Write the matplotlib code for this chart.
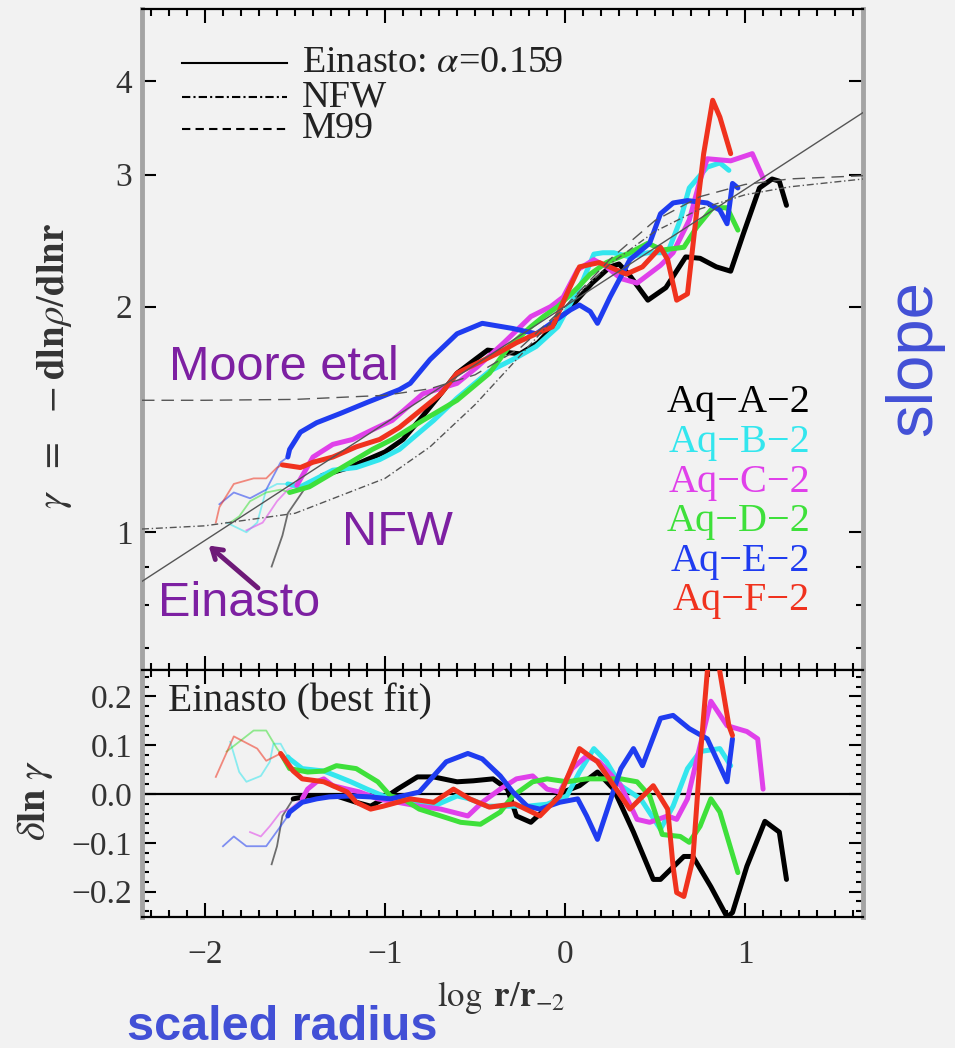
import numpy as np
import matplotlib
matplotlib.use('Agg')
import matplotlib.pyplot as plt
from matplotlib.lines import Line2D
from matplotlib.ticker import FixedLocator, NullFormatter, MultipleLocator, FixedFormatter

plt.rcParams['mathtext.fontset'] = 'stix'
plt.rcParams['font.family'] = ['Liberation Serif', 'DejaVu Serif']

# ---------------- data ----------------
halo_names = ['Aq\u2212A\u22122', 'Aq\u2212B\u22122', 'Aq\u2212C\u22122',
              'Aq\u2212D\u22122', 'Aq\u2212E\u22122', 'Aq\u2212F\u22122']
halo_colors = ['#000000', '#33e6ee', '#e040ea', '#3ee03a', '#1f3cf0', '#f0321e']

# convergence radius (thin line inside, thick outside) for each panel
split_top = [-1.35, -1.54, -1.49, -1.53, -1.54, -1.57]
split_bot = [-1.51, -1.54, -1.46, -1.57, -1.54, -1.58]

# --- top panel: gamma vs log r/r_-2
A_top_x = [-1.63, -1.57, -1.54, -1.45, -1.35, -1.2, -1.1, -1.0, -0.9, -0.8, -0.7, -0.6, -0.5, -0.43,
           -0.35, -0.25, -0.15, -0.05, 0.05, 0.15, 0.25, 0.3, 0.36, 0.46, 0.56, 0.67, 0.75, 0.84,
           0.92, 0.99, 1.08, 1.15, 1.19, 1.23]
A_top_g = [0.90, 0.99, 1.06, 1.14, 1.19, 1.22, 1.25, 1.28, 1.33, 1.42, 1.52, 1.63, 1.70, 1.75,
           1.74, 1.73, 1.79, 1.90, 2.02, 2.15, 2.26, 2.28, 2.20, 2.04, 2.12, 2.33, 2.32, 2.26,
           2.23, 2.50, 2.88, 2.96, 2.94, 2.73]

B_top_x = [-1.88, -1.77, -1.71, -1.66, -1.60, -1.54, -1.47, -1.29, -1.16, -1.03, -0.92, -0.73, -0.60,
           -0.42, -0.27, -0.16, -0.04, 0.03, 0.10, 0.16, 0.21, 0.27, 0.36, 0.46, 0.57, 0.64, 0.69,
           0.79, 0.86, 0.91]
B_top_g = [1.03, 1.00, 1.03, 1.14, 1.16, 1.16, 1.15, 1.21, 1.22, 1.25, 1.29, 1.41, 1.51,
           1.64, 1.71, 1.77, 1.88, 2.02, 2.17, 2.35, 2.36, 2.36, 2.33, 2.36, 2.36, 2.61, 2.88,
           3.07, 3.11, 3.04]

C_top_x = [-1.77, -1.68, -1.60, -1.54, -1.49, -1.40, -1.29, -1.18, -1.07, -0.96, -0.79, -0.60, -0.49,
           -0.34, -0.19, -0.08, -0.01, 0.07, 0.16, 0.23, 0.31, 0.40, 0.53, 0.60, 0.69, 0.75, 0.79,
           0.92, 1.04, 1.10]
C_top_g = [1.006, 1.03, 1.10, 1.14, 1.155, 1.26, 1.31, 1.33, 1.37, 1.41, 1.53, 1.58, 1.66,
           1.79, 1.94, 2.00, 2.06, 2.24, 2.31, 2.26, 2.18, 2.15, 2.27, 2.36, 2.61, 2.95, 3.15,
           3.13, 3.20, 2.97]

D_top_x = [-1.86, -1.81, -1.75, -1.66, -1.58, -1.53, -1.42, -1.29, -1.19, -1.07, -0.96, -0.79, -0.60,
           -0.42, -0.31, -0.19, -0.12, -0.04, 0.07, 0.14, 0.23, 0.36, 0.46, 0.54, 0.66, 0.73, 0.82,
           0.90, 0.96]
D_top_g = [1.03, 1.05, 1.10, 1.13, 1.14, 1.13, 1.15, 1.20, 1.24, 1.29, 1.33, 1.41, 1.50,
           1.63, 1.77, 1.88, 1.94, 2.00, 2.12, 2.21, 2.29, 2.36, 2.43, 2.38, 2.40, 2.55, 2.71,
           2.71, 2.53]

E_top_x = [-1.92, -1.84, -1.75, -1.66, -1.58, -1.54, -1.53, -1.47, -1.38, -1.25, -1.10, -0.92, -0.86,
           -0.75, -0.60, -0.46, -0.29, -0.16, 0.03, 0.08, 0.14, 0.18, 0.25, 0.36, 0.47, 0.53, 0.60,
           0.68, 0.79, 0.86, 0.90, 0.93, 0.96]
E_top_g = [1.09, 1.13, 1.11, 1.14, 1.24, 1.26, 1.29, 1.36, 1.40, 1.44, 1.49, 1.55, 1.58,
           1.70, 1.84, 1.90, 1.87, 1.84, 1.98, 2.01, 1.97, 1.90, 2.06, 2.31, 2.43, 2.66, 2.75,
           2.77, 2.75, 2.69, 2.58, 2.92, 2.88]

F_top_x = [-1.94, -1.92, -1.84, -1.73, -1.66, -1.60, -1.57, -1.47, -1.40, -1.29, -1.16, -1.03, -0.92,
           -0.69, -0.60, -0.49, -0.38, -0.27, -0.16, -0.07, 0.01, 0.08, 0.19, 0.34, 0.43, 0.53, 0.57,
           0.62, 0.68, 0.73, 0.77, 0.82, 0.86, 0.92]
F_top_g = [1.03, 1.08, 1.16, 1.18, 1.18, 1.22, 1.23, 1.22, 1.24, 1.26, 1.30, 1.33, 1.38,
           1.53, 1.63, 1.68, 1.73, 1.79, 1.84, 1.88, 2.08, 2.26, 2.29, 2.21, 2.26, 2.40, 2.31,
           2.04, 2.08, 2.66, 3.20, 3.77, 3.58, 3.20]

# --- bottom panel: delta ln gamma (residual from best-fit Einasto)
A_bot_x = [-1.63, -1.60, -1.57, -1.51, -1.43, -1.27, -1.16, -1.08, -1.01, -0.93, -0.82, -0.73, -0.60,
           -0.51, -0.40, -0.32, -0.27, -0.19, -0.14, -0.01, 0.08, 0.18, 0.27, 0.38, 0.49, 0.53, 0.66,
           0.71, 0.81, 0.90, 0.93, 1.01, 1.11, 1.19, 1.23]
A_bot_d = [-0.144, -0.107, -0.045, -0.010, -0.004, -0.004, -0.017, -0.025, -0.010, 0.010, 0.035, 0.035,
           0.025, 0.027, 0.031, 0.010, -0.045, -0.058, -0.041, 0.004, 0.017, 0.045, 0.010, -0.078,
           -0.175, -0.175, -0.128, -0.128, -0.190, -0.252, -0.243, -0.148, -0.056, -0.078, -0.175]

B_bot_x = [-1.86, -1.81, -1.77, -1.69, -1.64, -1.62, -1.58, -1.54, -1.53, -1.46, -1.34, -1.27, -1.19,
           -1.10, -1.01, -0.92, -0.73, -0.60, -0.53, -0.43, -0.32, -0.21, -0.10, 0.01, 0.08, 0.16,
           0.23, 0.31, 0.42, 0.53, 0.60, 0.68, 0.75, 0.86, 0.92]
B_bot_d = [0.107, 0.045, 0.025, 0.037, 0.066, 0.103, 0.103, 0.076, 0.072, 0.052, 0.047, 0.037, 0.025,
           0.010, -0.004, -0.010, -0.025, -0.004, -0.010, -0.025, -0.025, -0.025, -0.021, -0.004,
           0.045, 0.093, 0.066, 0.017, -0.010, -0.072, -0.025, 0.052, 0.087, 0.093, 0.058]

C_bot_x = [-1.75, -1.69, -1.64, -1.58, -1.53, -1.46, -1.43, -1.38, -1.34, -1.29, -1.21, -1.14, -1.04,
           -0.93, -0.81, -0.69, -0.54, -0.46, -0.36, -0.27, -0.18, -0.10, -0.03, 0.04, 0.12, 0.19,
           0.31, 0.40, 0.47, 0.57, 0.62, 0.68, 0.75, 0.81, 0.90, 1.01, 1.07, 1.10]
C_bot_d = [-0.078, -0.087, -0.066, -0.037, -0.031, -0.010, 0.010, 0.025, 0.031, 0.017, 0.010, 0.004,
           -0.010, -0.017, -0.025, -0.031, -0.045, -0.017, 0.010, 0.031, 0.037, 0.010, 0.004, 0.052,
           0.078, 0.066, 0.017, -0.052, -0.058, -0.045, -0.052, -0.010, 0.099, 0.190, 0.140, 0.128,
           0.113, 0.010]

D_bot_x = [-1.88, -1.81, -1.73, -1.66, -1.60, -1.57, -1.53, -1.43, -1.34, -1.27, -1.16, -1.04, -0.97,
           -0.90, -0.81, -0.69, -0.58, -0.47, -0.36, -0.29, -0.18, -0.10, 0.01, 0.12, 0.31, 0.40,
           0.47, 0.54, 0.64, 0.69, 0.75, 0.81, 0.86, 0.96]
D_bot_d = [0.087, 0.107, 0.130, 0.130, 0.093, 0.078, 0.052, 0.045, 0.047, 0.058, 0.052, 0.025, -0.004,
           -0.010, -0.031, -0.045, -0.058, -0.062, -0.037, -0.004, 0.025, 0.031, 0.025, 0.031, 0.031,
           0.025, -0.004, -0.083, -0.087, -0.099, -0.066, -0.010, -0.037, -0.161]

E_bot_x = [-1.90, -1.84, -1.77, -1.66, -1.58, -1.54, -1.53, -1.46, -1.38, -1.31, -1.19, -1.08, -0.97,
           -0.81, -0.73, -0.66, -0.54, -0.46, -0.36, -0.29, -0.21, -0.14, -0.03, 0.07, 0.12, 0.18,
           0.31, 0.38, 0.43, 0.53, 0.60, 0.69, 0.79, 0.90, 0.93]
E_bot_d = [-0.107, -0.087, -0.107, -0.107, -0.066, -0.045, -0.037, -0.017, -0.010, -0.006, -0.004,
           -0.006, -0.010, 0.004, 0.037, 0.066, 0.083, 0.072, 0.037, 0.004, -0.025, -0.031, -0.017,
           -0.010, -0.045, -0.093, 0.052, 0.093, 0.058, 0.155, 0.161, 0.134, 0.113, 0.025, 0.113]

F_bot_x = [-1.94, -1.84, -1.71, -1.66, -1.58, -1.51, -1.46, -1.34, -1.21, -1.16, -1.08, -1.01, -0.86,
           -0.73, -0.62, -0.53, -0.42, -0.28, -0.14, -0.03, 0.08, 0.18, 0.36, 0.49, 0.57, 0.60, 0.62,
           0.66, 0.71, 0.75, 0.79, 0.82, 0.85, 0.86, 0.91, 0.93]
F_bot_d = [0.035, 0.118, 0.093, 0.068, 0.083, 0.047, 0.031, 0.025, 0.004, -0.017, -0.031, -0.025,
           -0.010, -0.017, 0.010, -0.010, -0.027, -0.020, -0.045, -0.004, 0.093, 0.066, -0.031, 0.017,
           -0.031, -0.148, -0.202, -0.210, -0.134, 0.072, 0.25, 0.32, 0.32, 0.25, 0.14, 0.12]

top_x = [A_top_x, B_top_x, C_top_x, D_top_x, E_top_x, F_top_x]
top_g = [A_top_g, B_top_g, C_top_g, D_top_g, E_top_g, F_top_g]
bot_x = [A_bot_x, B_bot_x, C_bot_x, D_bot_x, E_bot_x, F_bot_x]
bot_d = [A_bot_d, B_bot_d, C_bot_d, D_bot_d, E_bot_d, F_bot_d]

# model curves
ein_x = [-2.35, 1.655]
ein_g = [0.86, 3.63]
nfw_x = [-2.35, -2.0, -1.5, -1.0, -0.75, -0.5, -0.25, 0.0, 0.25, 0.5, 0.75, 1.0, 1.25, 1.655]
nfw_g = [1.01, 1.02, 1.06, 1.18, 1.30, 1.48, 1.72, 2.00, 2.28, 2.52, 2.70, 2.82, 2.89, 2.96]
m99_x = [-2.35, -2.0, -1.5, -1.0, -0.75, -0.5, -0.25, 0.0, 0.25, 0.5, 0.75, 1.0, 1.25, 1.655]
m99_g = [1.50, 1.50, 1.504, 1.523, 1.554, 1.622, 1.761, 2.0, 2.314, 2.606, 2.804, 2.911, 2.961, 2.99]
model_labels = ['Einasto: $\\alpha$=0.159', 'NFW', 'M99']
model_styles = ['-', (0, (4, 1.5, 1, 1.5)), (0, (4, 2.5))]

xticks = [-2, -1, 0, 1]
xticklabels = ['\u22122', '\u22121', '0', '1']
top_yticks = [1, 2, 3, 4]
top_yticklabels = ['1', '2', '3', '4']
top_yminor = [0.7, 0.8, 0.9]
bot_yticks = [-0.2, -0.1, 0.0, 0.1, 0.2]
bot_yticklabels = ['\u22120.2', '\u22120.1', '0.0', '0.1', '0.2']

# ---------------- figure ----------------
BG = '#f2f2f2'
W, H = 955, 1048
fig = plt.figure(figsize=(W / 100, H / 100), dpi=100, facecolor=BG)
ax1 = fig.add_axes([142 / W, 1 - 670 / H, 721 / W, 661 / H])
ax2 = fig.add_axes([142 / W, 1 - 917 / H, 721 / W, 247 / H])

TXT = '#333333'
for ax in (ax1, ax2):
    ax.set_facecolor(BG)
    ax.set_xlim(-2.35, 1.655)
    ax.xaxis.set_major_locator(FixedLocator(xticks))
    ax.xaxis.set_minor_locator(MultipleLocator(0.1))
    ax.tick_params(which='both', direction='in', top=True, right=True, colors='k', labelcolor=TXT,
                   labelsize=24)
    ax.tick_params(which='major', length=10, width=1.5)
    ax.tick_params(which='minor', length=5, width=1.5)
    for s in ('left', 'right'):
        ax.spines[s].set_color('#a4a4a4')
        ax.spines[s].set_linewidth(3.5)
    for s in ('top', 'bottom'):
        ax.spines[s].set_color('k')
        ax.spines[s].set_linewidth(1.6)


def split_plot(ax, x, y, xs, color):
    x = np.asarray(x, float)
    y = np.asarray(y, float)
    thin = x <= xs + 1e-9
    thick = x >= xs - 1e-9
    ax.plot(x[thin], y[thin], color=color, lw=1.3, alpha=0.55, zorder=3)
    ax.plot(x[thick], y[thick], color=color, lw=3.6, solid_joinstyle='round',
            solid_capstyle='round', zorder=4)


# top panel
ax1.set_yscale('log')
ax1.set_ylim(0.655, 4.99)
ax1.yaxis.set_major_locator(FixedLocator(top_yticks))
ax1.yaxis.set_major_formatter(FixedFormatter(top_yticklabels))
ax1.yaxis.set_minor_locator(FixedLocator(top_yminor))
ax1.yaxis.set_minor_formatter(NullFormatter())
ax1.tick_params(axis='x', labelbottom=False)
ax1.tick_params(axis='y', pad=7)

for i in range(6):
    split_plot(ax1, top_x[i], top_g[i], split_top[i], halo_colors[i])

ax1.plot(ein_x, ein_g, color='#555555', lw=1.0, zorder=6)
ax1.plot(nfw_x, nfw_g, color='#555555', lw=1.0, ls=(0, (5, 2, 1, 2)), zorder=6)
ax1.plot(m99_x, m99_g, color='#555555', lw=1.0, ls=(0, (9, 5)), zorder=6)

# key for the model curves (drawn in axes fractions)
key_rows_px = [63, 97, 129]
for lab, st, ypx in zip(model_labels, model_styles, key_rows_px):
    yf = (670 - ypx) / 661
    ax1.add_line(Line2D([(182 - 142) / 721, (287 - 142) / 721], [yf, yf], color='k', lw=1.5,
                        ls=st, transform=ax1.transAxes))
    ax1.text((302 - 142) / 721, yf, lab, transform=ax1.transAxes, fontsize=27.5,
             color='#222222', ha='left', va='center')

for i in range(6):
    ax1.text(0.927, 0.404 - i * 0.0598, halo_names[i], color=halo_colors[i], fontsize=29,
             ha='right', va='center', transform=ax1.transAxes)

# bottom panel
ax2.set_ylim(-0.252, 0.254)
ax2.yaxis.set_major_locator(FixedLocator(bot_yticks))
ax2.yaxis.set_major_formatter(FixedFormatter(bot_yticklabels))
ax2.yaxis.set_minor_locator(MultipleLocator(0.02))
ax2.xaxis.set_major_formatter(FixedFormatter(xticklabels))
ax2.tick_params(axis='x', pad=16)
ax2.tick_params(axis='y', pad=7)
ax2.axhline(0.0, color='k', lw=1.6, zorder=2)
for i in range(6):
    split_plot(ax2, bot_x[i], bot_d[i], split_bot[i], halo_colors[i])
ax2.text(168, 1048 - 702, 'Einasto (best fit)', transform=None, fontsize=28.5, color='#222222',
         ha='left', va='center')

# axis labels
fig.text(55 / W, 1 - 366 / H, r'$\gamma\ \ =\ \ -\mathbf{dln}\rho/\mathbf{dlnr}$', rotation=90,
         ha='center', va='center', fontsize=28, color=TXT)
fig.text(35 / W, 1 - 800 / H, r'$\delta\mathbf{ln}\ \gamma$', rotation=90,
         ha='center', va='center', fontsize=29, color=TXT)
fig.text(501 / W, 1 - 998 / H, r'$\log\ \mathbf{r}/\mathbf{r}_{-2}$',
         ha='center', va='center', fontsize=25, color=TXT)

# overlay annotations
PURPLE = '#7d20a2'
BLUE = '#4250d6'
sans = ['Liberation Sans', 'DejaVu Sans']
fig.text(284 / W, 1 - 367 / H, 'Moore etal', color=PURPLE, fontsize=35, family=sans,
         ha='center', va='center')
fig.text(397 / W, 1 - 533 / H, 'NFW', color=PURPLE, fontsize=35, family=sans,
         ha='center', va='center')
fig.text(239 / W, 1 - 603 / H, 'Einasto', color=PURPLE, fontsize=35, family=sans,
         ha='center', va='center')
fig.text(914 / W, 1 - 358 / H, 'slope', color=BLUE, fontsize=47, family=sans,
         ha='center', va='center', rotation=90)
fig.text(282 / W, 1 - 1027 / H, 'scaled radius', color=BLUE, fontsize=35, family=sans,
         fontweight='bold', ha='center', va='center')
ax1.annotate('', xy=(-1.98, 0.96), xycoords='data',
             xytext=(258 / W, 1 - 588 / H), textcoords='figure fraction',
             arrowprops=dict(arrowstyle='->,head_length=0.7,head_width=0.45', lw=3.5,
                             color='#6e1a78', shrinkA=0, shrinkB=0), zorder=8)

fig.savefig('out.png', dpi=100, facecolor=BG)
